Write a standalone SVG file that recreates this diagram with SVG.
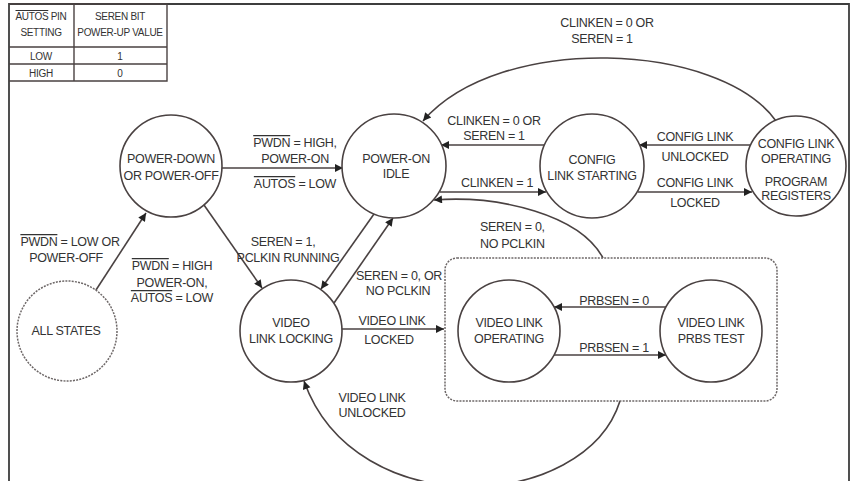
<svg xmlns="http://www.w3.org/2000/svg" width="853" height="481" viewBox="0 0 853 481">
<defs>
<style>
.frame{fill:none;stroke:#3d3d3d;stroke-width:1.8}
.tbl{fill:none;stroke:#4a4242;stroke-width:1.4}
.node{fill:#fff;stroke:#4a4242;stroke-width:1.6}
.dot{fill:none;stroke:#6e6868;stroke-width:1.5;stroke-dasharray:2 1.2}
.edge{fill:none;stroke:#4a4242;stroke-width:1.6}
text{font-family:"Liberation Sans",Arial,sans-serif;font-size:12.5px;fill:#333;text-anchor:middle;letter-spacing:-0.3px}
.t{font-size:10px}
.ol{text-decoration:overline}
</style>
<marker id="ah" viewBox="0 0 10 10" refX="10" refY="5" markerWidth="11" markerHeight="8" markerUnits="userSpaceOnUse" orient="auto">
<path d="M0,0 L10,5 L0,10 z" fill="#222"/>
</marker>
</defs>
<rect width="853" height="481" fill="#fff"/>
<path class="frame" d="M9,481 V4 H849 V481"/>

<g id="table">
<path class="tbl" d="M9,4 H167 V81 H9 M9,47 H167 M9,64 H167 M74,4 V81"/>
<text class="t" x="41" y="20"><tspan class="ol">AUTOS</tspan> PIN</text>
<text class="t" x="41" y="36">SETTING</text>
<text class="t" x="120" y="20">SEREN BIT</text>
<text class="t" x="120" y="36">POWER-UP VALUE</text>
<text class="t" x="41" y="60">LOW</text>
<text class="t" x="120" y="60">1</text>
<text class="t" x="41" y="77">HIGH</text>
<text class="t" x="120" y="77">0</text>
</g>

<g id="connectors">
<path class="edge" marker-end="url(#ah)" d="M96,290 L146,213"/>
<path class="edge" marker-end="url(#ah)" d="M222,168 L343,168"/>
<path class="edge" marker-end="url(#ah)" d="M204,205 L262,288"/>
<path class="edge" marker-end="url(#ah)" d="M374,214 L321,289"/>
<path class="edge" marker-end="url(#ah)" d="M334,303 L393,218"/>
<path class="edge" marker-end="url(#ah)" d="M545,145 L441,145"/>
<path class="edge" marker-end="url(#ah)" d="M440,192 L546,192"/>
<path class="edge" marker-end="url(#ah)" d="M750,145 L639,145"/>
<path class="edge" marker-end="url(#ah)" d="M638,192 L752,192"/>
<path class="edge" marker-end="url(#ah)" d="M776,121 C720,42 500,32 423,121"/>
<path class="edge" marker-end="url(#ah)" d="M603,258 C580,215 500,195 434,200"/>
<path class="edge" marker-end="url(#ah)" d="M620,401 C585,512 355,525 304,381"/>
<path class="edge" marker-end="url(#ah)" d="M342,329 L444,329"/>
<path class="edge" marker-end="url(#ah)" d="M666,307 L554,307"/>
<path class="edge" marker-end="url(#ah)" d="M554,355 L666,355"/>
<text x="607" y="27">CLINKEN = 0 OR</text>
<text x="602" y="43">SEREN = 1</text>
<text x="494" y="125">CLINKEN = 0 OR</text>
<text x="494" y="140">SEREN = 1</text>
<text x="497" y="187">CLINKEN = 1</text>
<text x="695" y="141">CONFIG LINK</text>
<text x="695" y="161">UNLOCKED</text>
<text x="695" y="187">CONFIG LINK</text>
<text x="695" y="207">LOCKED</text>
<text x="295" y="147"><tspan class="ol">PWDN</tspan> = HIGH,</text>
<text x="295" y="163">POWER-ON</text>
<text x="295" y="188"><tspan class="ol">AUTOS</tspan> = LOW</text>
<text x="70" y="246"><tspan class="ol">PWDN</tspan> = LOW OR</text>
<text x="66" y="262">POWER-OFF</text>
<text x="172" y="270"><tspan class="ol">PWDN</tspan> = HIGH</text>
<text x="172" y="287">POWER-ON,</text>
<text x="172" y="302"><tspan class="ol">AUTOS</tspan> = LOW</text>
<text x="283" y="246">SEREN = 1,</text>
<text x="288" y="262">PCLKIN RUNNING</text>
<text x="399" y="280">SEREN = 0, OR</text>
<text x="398" y="295">NO PCLKIN</text>
<text x="392" y="325">VIDEO LINK</text>
<text x="389" y="344">LOCKED</text>
<text x="480" y="231" style="text-anchor:start">SEREN = 0,</text>
<text x="480" y="248" style="text-anchor:start">NO PCLKIN</text>
<text x="614" y="305">PRBSEN = 0</text>
<text x="614" y="352">PRBSEN = 1</text>
<text x="372" y="402">VIDEO LINK</text>
<text x="372" y="417">UNLOCKED</text>
</g>

<g id="all-states">
<circle class="dot" cx="67" cy="331" r="50"/>
<text x="66" y="335">ALL STATES</text>
</g>
<g id="power-down">
<circle class="node" cx="171" cy="166" r="51"/>
<text x="171" y="163">POWER-DOWN</text>
<text x="171" y="180">OR POWER-OFF</text>
</g>
<g id="power-on-idle">
<circle class="node" cx="394" cy="166" r="52"/>
<text x="396" y="163">POWER-ON</text>
<text x="396" y="178">IDLE</text>
</g>
<g id="config-link-starting">
<circle class="node" cx="592" cy="166" r="52"/>
<text x="592" y="164">CONFIG</text>
<text x="592" y="180">LINK STARTING</text>
</g>
<g id="config-link-operating">
<circle class="node" cx="796" cy="166" r="50"/>
<text x="796" y="148">CONFIG LINK</text>
<text x="796" y="163">OPERATING</text>
<text x="796" y="186">PROGRAM</text>
<text x="796" y="200">REGISTERS</text>
</g>
<g id="video-link-locking">
<circle class="node" cx="291" cy="331" r="51"/>
<text x="291" y="327">VIDEO</text>
<text x="291" y="343">LINK LOCKING</text>
</g>
<g id="video-link-group">
<rect class="dot" x="445" y="258" width="332" height="143" rx="12"/>
</g>
<g id="video-link-operating">
<circle class="node" cx="509" cy="331" r="51"/>
<text x="509" y="327">VIDEO LINK</text>
<text x="509" y="343">OPERATING</text>
</g>
<g id="video-link-prbs-test">
<circle class="node" cx="711" cy="331" r="51"/>
<text x="711" y="327">VIDEO LINK</text>
<text x="711" y="343">PRBS TEST</text>
</g>
</svg>
